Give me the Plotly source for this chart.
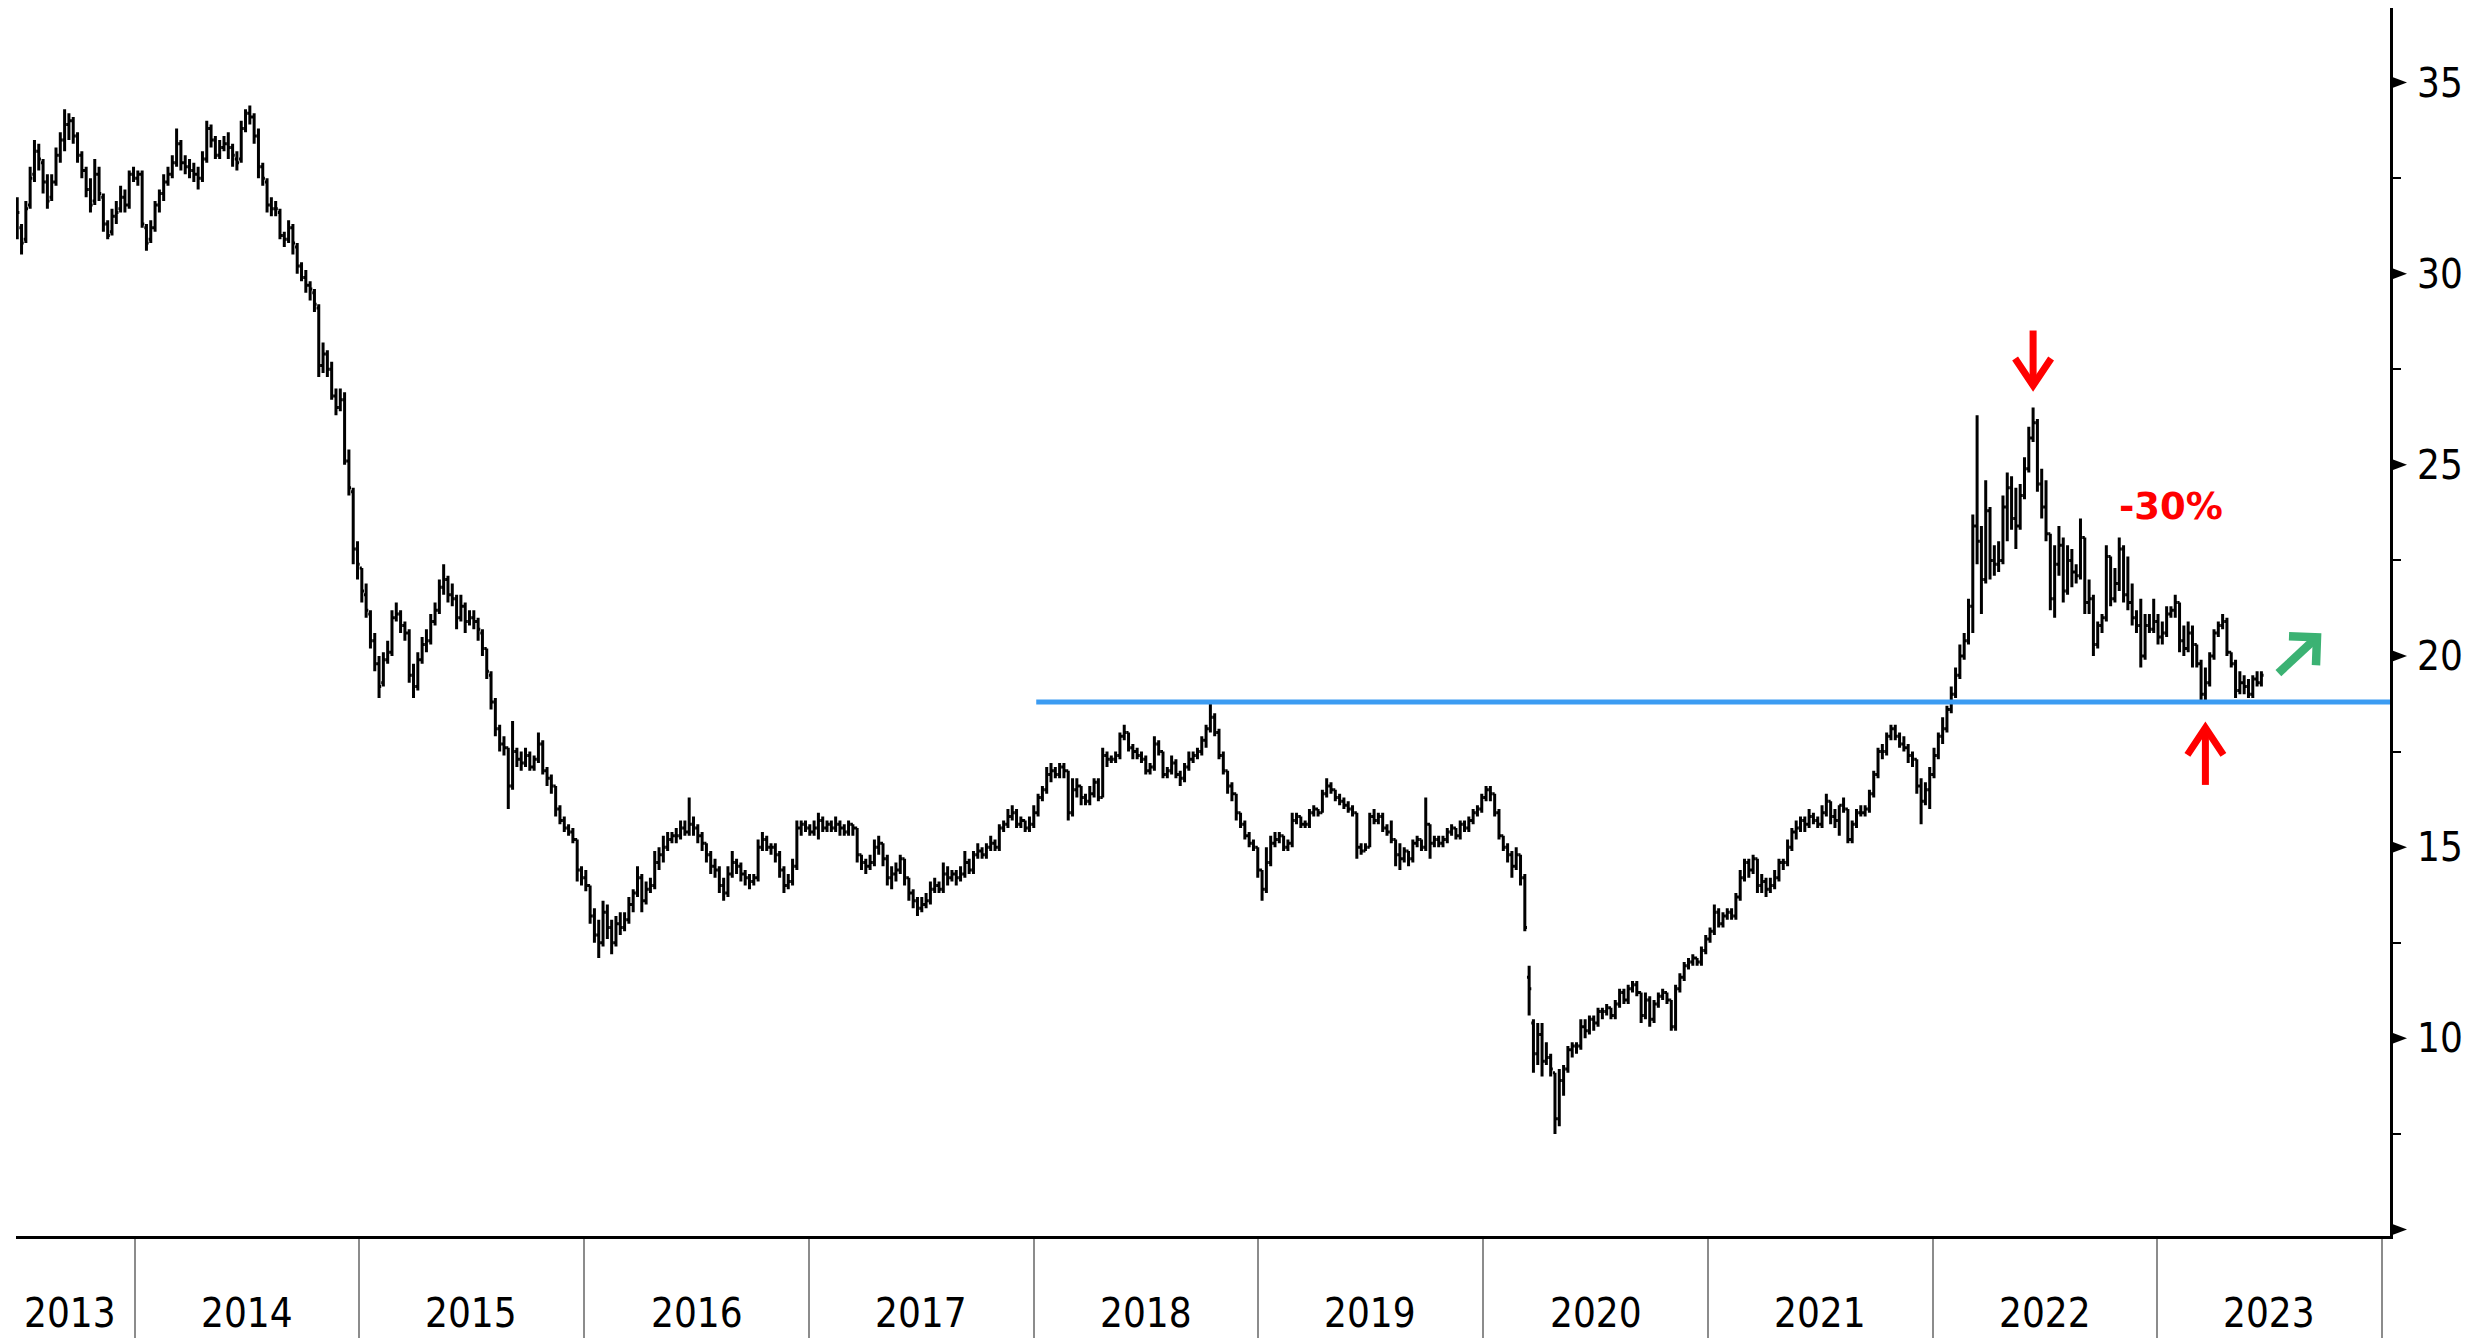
import pandas as pd
import plotly.graph_objects as go

# ---------------- weekly bars ----------------
start_week = "2013-06-24"

bar_open = [
    31.4, 31.2, 30.9, 31.8, 32.6, 33.2, 32.9, 32.4, 32.0, 32.4,
    33.1, 33.5, 33.9, 34.0, 33.6, 33.1, 32.7, 32.2, 31.9, 32.6,
    32.0, 31.3, 31.1, 31.5, 31.7, 32.0, 31.8, 32.6, 32.5, 32.6,
    31.2, 30.9, 31.2, 31.8, 32.1, 32.4, 32.6, 32.9, 33.4, 32.9,
    32.8, 32.7, 32.6, 32.5, 33.0, 33.8, 33.5, 33.1, 33.3, 33.4,
    33.3, 33.0, 33.0, 33.8, 34.2, 34.1, 33.6, 32.8, 32.4, 31.8,
    31.7, 31.6, 31.0, 30.9, 31.2, 30.7, 30.2, 29.9, 29.7, 29.5,
    29.1, 27.6, 27.9, 27.5, 26.8, 26.5, 26.7, 25.1, 24.3, 22.8,
    22.3, 21.6, 21.1, 20.4, 19.8, 19.3, 19.9, 20.1, 21.0, 21.1,
    20.8, 20.6, 19.5, 19.2, 19.9, 20.3, 20.4, 20.9, 21.2, 21.8,
    22.0, 21.6, 21.5, 21.0, 21.3, 20.9, 21.0, 20.9, 20.6, 20.2,
    19.5, 18.8, 18.1, 17.7, 17.6, 16.6, 17.5, 17.3, 17.2, 17.4,
    17.1, 17.3, 17.7, 17.0, 16.8, 16.6, 16.0, 15.7, 15.5, 15.4,
    15.2, 14.4, 14.2, 14.0, 13.2, 12.7, 12.5, 13.3, 12.9, 12.5,
    13.0, 12.9, 13.1, 13.5, 13.8, 14.2, 13.6, 13.9, 14.0, 14.6,
    14.8, 15.0, 15.2, 15.3, 15.3, 15.5, 15.4, 15.6, 15.5, 15.3,
    15.1, 14.8, 14.5, 14.4, 14.0, 13.8, 14.3, 14.6, 14.5, 14.3,
    14.2, 14.1, 14.2, 15.0, 15.2, 15.0, 15.0, 14.8, 14.4, 14.0,
    14.1, 14.5, 15.5, 15.6, 15.5, 15.4, 15.5, 15.7, 15.5, 15.6,
    15.5, 15.6, 15.5, 15.4, 15.6, 15.5, 14.8, 14.6, 14.5, 14.6,
    15.0, 15.1, 14.7, 14.2, 14.3, 14.4, 14.7, 14.2, 13.8, 13.6,
    13.4, 13.5, 13.6, 13.9, 14.0, 13.9, 14.3, 14.2, 14.3, 14.2,
    14.3, 14.6, 14.4, 14.8, 14.9, 14.8, 15.0, 15.1, 15.0, 15.5,
    15.6, 15.8, 15.9, 15.6, 15.7, 15.5, 15.6, 15.9, 16.3, 16.5,
    16.9, 17.0, 16.9, 17.1, 17.0, 15.9, 16.5, 16.6, 16.3, 16.2,
    16.4, 16.7, 16.3, 17.4, 17.3, 17.3, 17.4, 17.9, 18.0, 17.6,
    17.5, 17.4, 17.3, 17.0, 17.1, 17.7, 17.5, 16.9, 17.0, 17.2,
    16.9, 16.8, 17.1, 17.3, 17.4, 17.5, 17.8, 18.1, 18.4, 18.0,
    17.4, 17.0, 16.6, 16.4, 15.9, 15.6, 15.3, 15.1, 15.0, 14.4,
    13.9, 14.6, 15.1, 15.2, 15.3, 15.0, 15.1, 15.7, 15.8, 15.6,
    15.6, 15.9, 16.0, 15.9, 16.4, 16.6, 16.5, 16.3, 16.2, 16.1,
    16.0, 15.9, 15.0, 14.9, 15.0, 15.8, 15.7, 15.8, 15.5, 15.4,
    15.2, 14.8, 14.7, 14.9, 14.7, 15.1, 15.2, 15.0, 15.6, 15.1,
    15.2, 15.1, 15.2, 15.4, 15.5, 15.3, 15.6, 15.5, 15.7, 15.9,
    16.0, 16.3, 16.5, 16.4, 15.9, 15.3, 15.0, 14.8, 14.5, 14.8,
    14.2, 11.6, 10.4, 9.6, 10.1, 9.4, 9.5, 9.1, 7.9, 8.9,
    9.2, 9.7, 9.8, 9.8, 10.3, 10.2, 10.5, 10.4, 10.7, 10.7,
    10.8, 10.6, 10.9, 11.2, 11.0, 11.3, 11.4, 11.2, 10.6, 11.0,
    10.5, 10.9, 11.1, 11.2, 11.0, 10.3, 11.3, 11.6, 11.9, 12.0,
    12.1, 12.0, 12.3, 12.6, 12.8, 13.3, 13.0, 13.2, 13.3, 13.2,
    13.7, 14.2, 14.6, 14.4, 14.7, 14.0, 14.1, 13.9, 14.0, 14.2,
    14.6, 14.6, 15.0, 15.4, 15.5, 15.7, 15.6, 15.8, 15.7, 15.6,
    15.9, 16.2, 15.8, 15.7, 16.1, 16.0, 15.2, 15.6, 15.9, 15.9,
    16.0, 16.4, 16.9, 17.5, 17.5, 17.9, 18.1, 17.9, 17.7, 17.6,
    17.4, 17.3, 16.6, 16.2, 16.5, 16.9, 17.4, 17.9, 18.1, 18.6,
    19.0, 19.5, 20.0, 20.4, 21.3, 23.4, 23.0, 22.0, 23.8, 22.5,
    22.4, 22.5, 23.9, 24.4, 23.6, 23.4, 24.2, 24.9, 25.7, 26.1,
    24.5, 23.9, 23.2, 21.5, 22.4, 22.9, 21.7, 22.5, 22.2, 22.1,
    23.1, 21.4, 21.5, 20.3, 20.8, 21.0, 22.6, 21.5, 21.9, 22.8,
    21.6, 21.4, 21.0, 20.8, 20.0, 20.8, 20.7, 20.9, 20.5, 20.6,
    21.1, 21.2, 21.4, 20.4, 20.2, 20.6, 20.3, 19.8, 19.0, 19.3,
    20.0, 20.6, 20.8, 20.9, 20.1, 19.8, 19.1, 19.3, 19.2, 19.0, 19.4, 19.3,
]

bar_high = [
    32.0, 31.3, 31.9, 32.8, 33.5, 33.4, 33.0, 32.6, 32.6, 33.3,
    33.7, 34.3, 34.2, 34.1, 33.7, 33.2, 32.8, 32.5, 33.0, 32.8,
    32.1, 31.4, 31.7, 31.9, 32.3, 32.2, 32.7, 32.8, 32.7, 32.7,
    31.3, 31.4, 31.9, 32.2, 32.6, 32.8, 33.1, 33.8, 33.5, 33.1,
    33.0, 32.9, 32.8, 33.2, 34.0, 33.9, 33.6, 33.5, 33.6, 33.7,
    33.4, 33.2, 34.0, 34.3, 34.4, 34.2, 33.8, 32.9, 32.5, 32.0,
    31.9, 31.7, 31.1, 31.4, 31.3, 30.8, 30.3, 30.1, 29.8, 29.6,
    29.2, 28.2, 28.0, 27.7, 27.0, 27.0, 26.9, 25.4, 24.4, 23.0,
    22.3, 21.9, 21.2, 20.6, 20.0, 20.1, 20.4, 21.2, 21.4, 21.2,
    20.9, 20.7, 19.8, 20.1, 20.5, 20.7, 21.1, 21.4, 22.0, 22.4,
    22.1, 21.9, 21.6, 21.6, 21.4, 21.2, 21.2, 21.0, 20.7, 20.2,
    19.6, 18.9, 18.2, 17.9, 17.6, 18.3, 17.6, 17.5, 17.6, 17.5,
    17.4, 18.0, 17.8, 17.1, 16.9, 16.6, 16.1, 15.8, 15.6, 15.5,
    15.2, 14.5, 14.4, 14.0, 13.4, 13.1, 13.6, 13.5, 13.1, 13.2,
    13.3, 13.3, 13.7, 13.9, 14.5, 14.3, 14.1, 14.2, 14.9, 15.0,
    15.3, 15.4, 15.4, 15.5, 15.7, 15.7, 16.3, 15.8, 15.6, 15.4,
    15.1, 14.9, 14.7, 14.5, 14.2, 14.5, 14.9, 14.7, 14.6, 14.4,
    14.3, 14.3, 15.2, 15.4, 15.3, 15.1, 15.1, 14.9, 14.5, 14.3,
    14.7, 15.7, 15.7, 15.7, 15.6, 15.7, 15.9, 15.8, 15.7, 15.7,
    15.8, 15.7, 15.6, 15.7, 15.6, 15.5, 14.8, 14.7, 14.8, 15.2,
    15.3, 15.1, 14.8, 14.5, 14.6, 14.8, 14.7, 14.2, 13.9, 13.7,
    13.7, 13.8, 14.1, 14.2, 14.1, 14.6, 14.5, 14.4, 14.4, 14.5,
    14.9, 14.7, 14.9, 15.1, 15.0, 15.1, 15.3, 15.2, 15.6, 15.7,
    16.0, 16.1, 16.0, 15.8, 15.7, 15.8, 16.1, 16.4, 16.6, 17.1,
    17.2, 17.1, 17.2, 17.2, 17.0, 16.8, 16.8, 16.6, 16.4, 16.6,
    16.8, 16.8, 17.6, 17.5, 17.4, 17.5, 18.0, 18.2, 18.0, 17.7,
    17.6, 17.5, 17.4, 17.2, 17.9, 17.8, 17.5, 17.1, 17.4, 17.3,
    17.0, 17.2, 17.5, 17.5, 17.6, 17.9, 18.2, 18.8, 18.5, 18.1,
    17.5, 17.0, 16.7, 16.4, 15.9, 15.7, 15.4, 15.2, 15.0, 14.4,
    15.0, 15.3, 15.4, 15.4, 15.3, 15.2, 15.9, 15.9, 15.8, 15.7,
    16.0, 16.1, 16.0, 16.5, 16.8, 16.7, 16.5, 16.4, 16.3, 16.2,
    16.1, 15.9, 15.1, 15.1, 15.9, 16.0, 15.9, 15.9, 15.6, 15.7,
    15.2, 15.1, 15.0, 14.9, 15.2, 15.3, 15.2, 16.3, 15.6, 15.3,
    15.3, 15.3, 15.5, 15.6, 15.5, 15.7, 15.7, 15.8, 16.0, 16.1,
    16.4, 16.6, 16.6, 16.4, 16.0, 15.3, 15.1, 14.9, 15.0, 14.8,
    14.3, 11.9, 10.5, 10.4, 10.4, 9.9, 9.6, 9.1, 9.2, 9.3,
    9.8, 9.9, 9.9, 10.5, 10.5, 10.6, 10.6, 10.8, 10.8, 10.9,
    10.8, 11.0, 11.3, 11.3, 11.4, 11.5, 11.5, 11.2, 11.2, 11.1,
    11.0, 11.2, 11.3, 11.2, 11.0, 11.4, 11.7, 12.0, 12.1, 12.2,
    12.1, 12.4, 12.7, 12.9, 13.5, 13.4, 13.3, 13.4, 13.4, 13.8,
    14.4, 14.7, 14.7, 14.8, 14.7, 14.3, 14.2, 14.2, 14.4, 14.7,
    14.7, 15.2, 15.5, 15.7, 15.8, 15.8, 16.0, 15.9, 15.8, 16.1,
    16.4, 16.2, 16.0, 16.1, 16.3, 16.0, 15.7, 16.0, 16.1, 16.1,
    16.5, 17.0, 17.6, 17.7, 18.0, 18.2, 18.2, 18.0, 17.9, 17.7,
    17.5, 17.3, 16.8, 16.7, 17.1, 17.6, 18.0, 18.4, 18.7, 19.2,
    19.7, 20.3, 20.6, 21.5, 23.7, 26.3, 23.4, 24.6, 23.9, 22.9,
    23.0, 24.2, 24.8, 24.7, 24.4, 24.5, 25.2, 26.0, 26.5, 26.2,
    24.9, 24.6, 23.2, 22.9, 23.4, 23.1, 22.9, 22.8, 22.4, 23.6,
    23.1, 22.0, 21.6, 20.9, 21.1, 22.9, 22.6, 22.3, 23.1, 22.9,
    22.6, 21.9, 21.2, 21.5, 21.1, 21.1, 21.5, 21.1, 20.9, 21.3,
    21.3, 21.6, 21.4, 20.8, 20.9, 20.8, 20.3, 19.9, 19.7, 20.1,
    20.7, 20.9, 21.1, 21.0, 20.1, 19.9, 19.6, 19.5, 19.4, 19.5, 19.6, 19.6,
]

bar_low = [
    30.9, 30.5, 30.8, 31.7, 32.4, 32.7, 32.1, 31.7, 31.9, 32.3,
    32.9, 33.2, 33.5, 33.4, 32.9, 32.5, 32.0, 31.6, 31.8, 31.9,
    31.1, 30.9, 31.0, 31.3, 31.6, 31.6, 31.7, 32.4, 32.3, 31.2,
    30.6, 30.8, 31.1, 31.6, 31.9, 32.3, 32.5, 32.8, 32.7, 32.6,
    32.5, 32.4, 32.2, 32.4, 32.9, 33.3, 33.0, 33.0, 33.2, 33.0,
    32.8, 32.7, 32.9, 33.7, 33.9, 33.4, 32.5, 32.3, 31.6, 31.5,
    31.5, 30.9, 30.7, 30.8, 30.5, 30.0, 29.8, 29.5, 29.3, 29.0,
    27.3, 27.4, 27.3, 26.7, 26.3, 26.4, 25.0, 24.2, 22.4, 22.0,
    21.4, 21.0, 20.2, 19.6, 18.9, 19.2, 19.8, 20.0, 20.9, 20.6,
    20.4, 19.3, 18.9, 19.1, 19.8, 20.1, 20.3, 20.8, 21.1, 21.6,
    21.4, 21.3, 20.7, 20.9, 20.6, 20.8, 20.7, 20.4, 20.0, 19.4,
    18.6, 17.9, 17.5, 17.4, 16.0, 16.5, 17.1, 17.0, 17.1, 17.0,
    17.0, 17.2, 16.9, 16.6, 16.4, 15.8, 15.6, 15.4, 15.3, 15.1,
    14.1, 14.0, 13.85, 13.0, 12.5, 12.1, 12.4, 12.6, 12.2, 12.4,
    12.7, 12.8, 13.0, 13.3, 13.7, 13.3, 13.5, 13.8, 13.9, 14.4,
    14.6, 14.9, 15.1, 15.1, 15.2, 15.3, 15.3, 15.3, 15.1, 14.9,
    14.6, 14.3, 14.2, 13.8, 13.6, 13.7, 14.2, 14.3, 14.1, 14.0,
    13.9, 14.0, 14.1, 14.9, 14.9, 14.8, 14.6, 14.2, 13.8, 13.9,
    14.0, 14.4, 15.3, 15.4, 15.3, 15.3, 15.2, 15.4, 15.4, 15.4,
    15.4, 15.3, 15.3, 15.3, 15.3, 14.6, 14.4, 14.3, 14.4, 14.5,
    14.8, 14.5, 14.0, 13.9, 14.1, 14.3, 14.0, 13.6, 13.4, 13.2,
    13.3, 13.4, 13.5, 13.8, 13.8, 13.8, 14.0, 14.1, 14.0, 14.1,
    14.2, 14.3, 14.3, 14.7, 14.7, 14.7, 14.9, 14.9, 14.9, 15.4,
    15.5, 15.7, 15.5, 15.5, 15.4, 15.4, 15.5, 15.8, 16.2, 16.4,
    16.7, 16.8, 16.8, 16.8, 15.7, 15.8, 16.3, 16.1, 16.1, 16.1,
    16.3, 16.2, 16.3, 17.1, 17.2, 17.2, 17.3, 17.8, 17.5, 17.3,
    17.3, 17.2, 16.9, 16.9, 17.0, 17.4, 16.8, 16.8, 16.9, 16.8,
    16.6, 16.7, 17.0, 17.2, 17.3, 17.4, 17.6, 18.0, 17.9, 17.3,
    16.9, 16.4, 16.2, 15.7, 15.5, 15.2, 15.0, 14.9, 14.2, 13.6,
    13.8, 14.5, 15.0, 15.1, 14.9, 14.9, 15.0, 15.6, 15.5, 15.5,
    15.5, 15.8, 15.8, 15.9, 16.3, 16.4, 16.2, 16.1, 16.0, 15.9,
    15.8, 14.7, 14.8, 14.9, 15.0, 15.6, 15.6, 15.4, 15.3, 15.1,
    14.5, 14.4, 14.6, 14.5, 14.6, 15.0, 14.9, 14.9, 14.7, 15.0,
    15.0, 15.0, 15.1, 15.3, 15.2, 15.2, 15.4, 15.4, 15.6, 15.8,
    15.9, 16.2, 16.2, 15.8, 15.2, 14.9, 14.6, 14.2, 14.4, 14.0,
    12.8, 10.6, 9.1, 9.3, 9.0, 9.3, 9.0, 7.5, 7.7, 8.5,
    9.1, 9.5, 9.6, 9.7, 10.0, 10.1, 10.2, 10.3, 10.5, 10.6,
    10.5, 10.5, 10.8, 10.9, 10.9, 11.2, 11.1, 10.4, 10.5, 10.3,
    10.4, 10.8, 11.0, 10.9, 10.2, 10.2, 11.2, 11.5, 11.8, 11.9,
    11.9, 11.9, 12.2, 12.5, 12.7, 12.9, 12.9, 13.1, 13.1, 13.1,
    13.6, 14.1, 14.2, 14.3, 13.8, 13.8, 13.7, 13.8, 13.9, 14.1,
    14.4, 14.5, 14.9, 15.2, 15.4, 15.4, 15.5, 15.6, 15.5, 15.5,
    15.8, 15.6, 15.5, 15.3, 15.9, 15.1, 15.1, 15.5, 15.8, 15.8,
    15.9, 16.3, 16.8, 17.3, 17.4, 17.8, 17.8, 17.6, 17.5, 17.2,
    17.1, 16.4, 15.6, 16.1, 16.0, 16.8, 17.3, 17.7, 18.0, 18.5,
    18.9, 19.4, 19.9, 20.3, 20.6, 22.4, 21.1, 21.9, 22.0, 22.1,
    22.2, 22.4, 23.0, 23.3, 22.8, 23.3, 24.1, 24.8, 25.6, 24.3,
    23.6, 23.0, 21.2, 21.0, 22.1, 21.4, 21.6, 21.8, 21.9, 22.0,
    21.1, 21.1, 20.0, 20.2, 20.6, 20.9, 21.3, 21.4, 21.7, 21.4,
    21.2, 20.8, 20.6, 19.7, 19.9, 20.6, 20.6, 20.3, 20.3, 20.5,
    21.0, 21.0, 20.1, 20.0, 20.1, 19.7, 19.7, 18.8, 18.8, 19.2,
    19.9, 20.5, 20.7, 20.0, 19.7, 18.9, 19.0, 19.0, 18.9, 18.9, 19.2, 19.2,
]

bar_close = [
    31.6, 30.8, 31.7, 32.5, 33.2, 33.0, 32.4, 31.9, 32.4, 33.1,
    33.5, 33.9, 34.0, 33.6, 33.1, 32.7, 32.2, 31.8, 32.6, 32.1,
    31.3, 31.0, 31.5, 31.6, 32.0, 31.8, 32.6, 32.5, 32.6, 31.3,
    30.8, 31.2, 31.8, 32.1, 32.4, 32.6, 32.9, 33.4, 32.9, 32.8,
    32.7, 32.6, 32.5, 33.0, 33.8, 33.5, 33.1, 33.3, 33.4, 33.3,
    33.1, 32.9, 33.8, 34.2, 34.1, 33.6, 32.8, 32.5, 31.8, 31.7,
    31.7, 31.0, 30.9, 31.2, 30.8, 30.2, 29.9, 29.7, 29.6, 29.2,
    27.6, 27.9, 27.5, 26.8, 26.5, 26.7, 25.1, 24.4, 22.8, 22.4,
    21.7, 21.2, 20.4, 19.8, 19.2, 19.9, 20.1, 21.0, 21.1, 20.8,
    20.6, 19.5, 19.2, 19.9, 20.3, 20.4, 20.9, 21.2, 21.8, 22.0,
    21.6, 21.5, 21.0, 21.3, 20.9, 21.0, 20.9, 20.7, 20.2, 19.6,
    18.8, 18.1, 17.7, 17.6, 16.6, 17.5, 17.3, 17.2, 17.4, 17.1,
    17.3, 17.7, 17.0, 16.8, 16.6, 16.0, 15.7, 15.5, 15.4, 15.2,
    14.4, 14.2, 14.0, 13.2, 12.7, 12.5, 13.3, 12.9, 12.5, 13.0,
    12.9, 13.1, 13.5, 13.8, 14.2, 13.6, 13.9, 14.0, 14.6, 14.8,
    15.0, 15.2, 15.3, 15.3, 15.5, 15.4, 15.6, 15.5, 15.3, 15.1,
    14.8, 14.5, 14.4, 14.0, 13.8, 14.3, 14.6, 14.5, 14.3, 14.2,
    14.1, 14.2, 15.0, 15.2, 15.0, 15.0, 14.8, 14.4, 14.0, 14.1,
    14.5, 15.5, 15.6, 15.5, 15.4, 15.5, 15.7, 15.5, 15.6, 15.5,
    15.6, 15.5, 15.4, 15.6, 15.5, 14.8, 14.6, 14.5, 14.6, 15.0,
    15.1, 14.7, 14.2, 14.3, 14.4, 14.7, 14.2, 13.8, 13.6, 13.4,
    13.5, 13.6, 13.9, 14.0, 13.9, 14.3, 14.2, 14.3, 14.2, 14.3,
    14.6, 14.4, 14.8, 14.9, 14.8, 15.0, 15.1, 15.0, 15.5, 15.6,
    15.8, 15.9, 15.6, 15.7, 15.5, 15.6, 15.9, 16.3, 16.5, 16.9,
    17.0, 16.9, 17.1, 17.0, 15.9, 16.5, 16.6, 16.3, 16.2, 16.4,
    16.7, 16.3, 17.4, 17.3, 17.3, 17.4, 17.9, 18.0, 17.6, 17.5,
    17.4, 17.3, 17.0, 17.1, 17.7, 17.5, 16.9, 17.0, 17.2, 16.9,
    16.8, 17.1, 17.3, 17.4, 17.5, 17.8, 18.1, 18.4, 18.0, 17.4,
    17.0, 16.6, 16.4, 15.9, 15.6, 15.3, 15.1, 15.0, 14.4, 13.9,
    14.6, 15.1, 15.2, 15.3, 15.0, 15.1, 15.7, 15.8, 15.6, 15.6,
    15.9, 16.0, 15.9, 16.4, 16.6, 16.5, 16.3, 16.2, 16.1, 16.0,
    15.9, 15.0, 14.9, 15.0, 15.8, 15.7, 15.8, 15.5, 15.4, 15.2,
    14.8, 14.7, 14.9, 14.7, 15.1, 15.2, 15.0, 15.6, 15.1, 15.2,
    15.1, 15.2, 15.4, 15.5, 15.3, 15.6, 15.5, 15.7, 15.9, 16.0,
    16.3, 16.5, 16.4, 15.9, 15.3, 15.0, 14.8, 14.5, 14.8, 14.2,
    12.9, 11.3, 9.6, 10.1, 9.4, 9.5, 9.2, 7.9, 8.9, 9.2,
    9.7, 9.8, 9.8, 10.3, 10.2, 10.5, 10.4, 10.7, 10.7, 10.8,
    10.6, 10.9, 11.2, 11.0, 11.3, 11.4, 11.2, 10.6, 11.0, 10.5,
    10.9, 11.1, 11.2, 11.0, 10.3, 11.3, 11.6, 11.9, 12.0, 12.1,
    12.0, 12.3, 12.6, 12.8, 13.3, 13.0, 13.2, 13.3, 13.2, 13.7,
    14.2, 14.6, 14.4, 14.7, 14.0, 14.1, 13.9, 14.0, 14.2, 14.6,
    14.6, 15.0, 15.4, 15.5, 15.7, 15.6, 15.8, 15.7, 15.6, 15.9,
    16.2, 15.8, 15.7, 16.1, 16.0, 15.2, 15.6, 15.9, 15.9, 16.0,
    16.4, 16.9, 17.5, 17.5, 17.9, 18.1, 17.9, 17.7, 17.6, 17.4,
    17.3, 16.6, 16.2, 16.5, 16.9, 17.4, 17.9, 18.1, 18.6, 19.0,
    19.5, 20.0, 20.4, 21.3, 23.4, 23.0, 22.0, 23.8, 22.5, 22.4,
    22.5, 23.9, 24.4, 23.6, 23.4, 24.2, 24.9, 25.7, 26.1, 24.5,
    23.9, 23.2, 21.5, 22.4, 22.9, 21.7, 22.5, 22.2, 22.1, 23.1,
    21.4, 21.5, 20.3, 20.8, 21.0, 22.6, 21.5, 21.9, 22.8, 21.6,
    21.4, 21.0, 20.8, 20.0, 20.8, 20.7, 20.9, 20.5, 20.6, 21.1,
    21.2, 21.4, 20.4, 20.2, 20.6, 20.3, 19.8, 19.0, 19.3, 20.0,
    20.6, 20.8, 20.9, 20.1, 19.8, 19.1, 19.3, 19.2, 19.0, 19.4, 19.3, 19.5,
]

year_labels = ["2013", "2014", "2015", "2016", "2017", "2018",
               "2019", "2020", "2021", "2022", "2023"]
year_label_dates = ["2013-09-17", "2014-07-02", "2015-07-02", "2016-07-02",
                    "2017-07-02", "2018-07-02", "2019-07-02", "2020-07-02",
                    "2021-07-02", "2022-07-02", "2023-07-02"]
year_bounds = [f"{y}-01-01" for y in range(2014, 2025)]

price_ticks = [10, 15, 20, 25, 30, 35]
marker_ticks = [5, 10, 15, 20, 25, 30, 35]
minor_ticks = [7.5, 12.5, 17.5, 22.5, 27.5, 32.5]

support_level = 18.8
support_start = "2018-01-05"
drawdown_text = "-30%"
peak_year = 2022
support_touch_week = 508
label_week = 500

# ---------------- figure ----------------
n = min(len(bar_open), len(bar_high), len(bar_low), len(bar_close))
dates = pd.date_range(start_week, periods=n, freq="7D")
x_end = "2024-01-14"

FONT = "DejaVu Sans Condensed, DejaVu Sans, sans-serif"

fig = go.Figure()
fig.add_trace(go.Ohlc(
    x=dates, open=bar_open[:n], high=bar_high[:n], low=bar_low[:n], close=bar_close[:n],
    increasing=dict(line=dict(color="black", width=3)),
    decreasing=dict(line=dict(color="black", width=3)),
    tickwidth=0.5, showlegend=False, hoverinfo="x+y",
))

shapes = []
# support line
shapes.append(dict(type="line", xref="x", yref="y", x0=support_start, x1=x_end,
                   y0=support_level, y1=support_level,
                   line=dict(color="#3C9CF2", width=5), layer="above"))

# right-axis triangular tick markers
for v in marker_ticks:
    shapes.append(dict(type="path", xref="paper", yref="y",
                       xsizemode="pixel", ysizemode="pixel", xanchor=1, yanchor=v,
                       path="M1,-6 L17,0 L1,6 Z", fillcolor="black",
                       line=dict(width=0), layer="above"))

# arrows (pixel-sized, attached to the data)
peak_candidates = [i for i in range(n) if dates[i].year == peak_year]
peak_i = max(peak_candidates, key=lambda i: bar_high[i])
red = "#FF0000"
green = "#3BB273"


def arrow(xa, ya, paths, color, width):
    for p in paths:
        shapes.append(dict(type="path", xref="x", yref="y", xsizemode="pixel",
                           ysizemode="pixel", xanchor=xa, yanchor=ya, path=p,
                           line=dict(color=color, width=width),
                           fillcolor="rgba(0,0,0,0)", layer="above"))


arrow(dates[peak_i], bar_high[peak_i],
      ["M0,77 L0,25", "M-18,49 L0,22 L18,49"], red, 7)
arrow(dates[support_touch_week], bar_low[support_touch_week],
      ["M0,-83 L0,-28", "M-18,-53 L0,-26 L18,-53"], red, 7)
arrow(dates[n - 1], bar_close[n - 1],
      ["M17,2 L53,35.5", "M27.6,38.9 L55.6,37.9 L54.6,9.9"], green, 8.5)

annotations = []
for lab, d in zip(year_labels, year_label_dates):
    annotations.append(dict(text=lab, x=d, xref="x", y=0, yref="paper",
                            yanchor="middle", xanchor="center", yshift=-77,
                            showarrow=False,
                            font=dict(family=FONT, size=40, color="black")))
annotations.append(dict(text=drawdown_text, x=dates[label_week], xref="x",
                        y=23.9, yref="y", showarrow=False,
                        xanchor="center", yanchor="middle",
                        font=dict(family="DejaVu Sans, Verdana, sans-serif",
                                  size=37, color=red, weight="bold")))

fig.update_layout(
    width=2487, height=1338, autosize=False,
    margin=dict(l=16, r=97, t=8, b=102, pad=0, autoexpand=False),
    paper_bgcolor="white", plot_bgcolor="white",
    showlegend=False,
    shapes=shapes, annotations=annotations,
    xaxis=dict(
        type="date", range=[str(dates[0] - pd.Timedelta(days=2))[:10], x_end],
        rangeslider=dict(visible=False), automargin=False,
        showline=True, linecolor="black", linewidth=3,
        showgrid=False, zeroline=False,
        ticks="outside", tickvals=year_bounds, ticktext=[""] * len(year_bounds),
        ticklen=102, tickwidth=1.5, tickcolor="#8c8c8c",
        fixedrange=True,
    ),
    yaxis=dict(
        side="right", range=[4.83, 36.95], automargin=False,
        showline=True, linecolor="black", linewidth=3,
        showgrid=False, zeroline=False,
        ticks="outside", ticklen=16, tickcolor="rgba(0,0,0,0)",
        tickvals=price_ticks, ticktext=[str(v) for v in price_ticks],
        tickfont=dict(family=FONT, size=40, color="black"),
        minor=dict(tickvals=minor_ticks, ticks="outside", ticklen=8,
                   tickwidth=1.5, tickcolor="black"),
        fixedrange=True,
    ),
)

fig.write_html("out.html")
